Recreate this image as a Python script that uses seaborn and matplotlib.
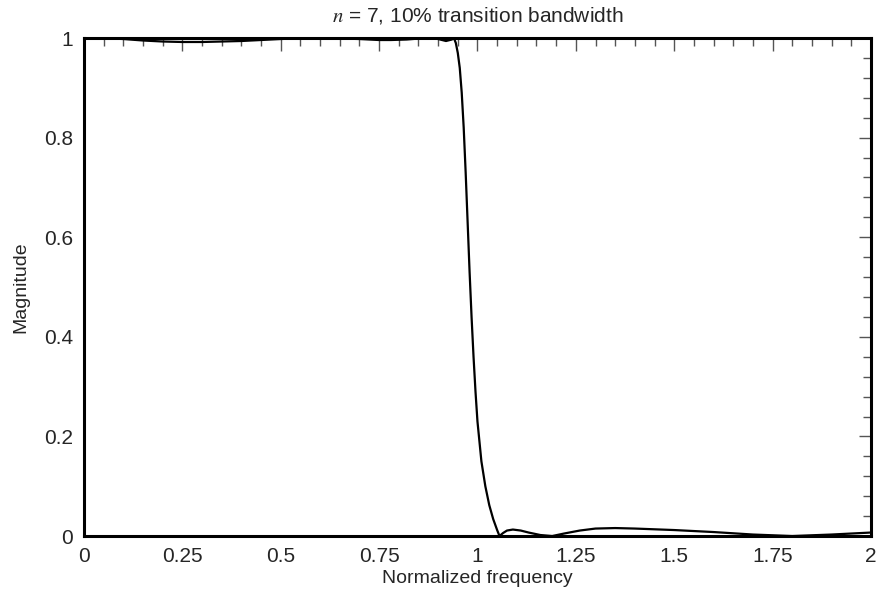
import matplotlib
matplotlib.use("Agg")
import matplotlib.pyplot as plt
import seaborn as sns
import pandas as pd
from matplotlib.ticker import MultipleLocator, FixedFormatter, FixedLocator

# Data
freq = [0.00, 0.05, 0.10, 0.15, 0.20, 0.25, 0.30, 0.35, 0.40, 0.45, 0.50, 0.55,
        0.60, 0.65, 0.70, 0.75, 0.78, 0.82, 0.86, 0.88, 0.90, 0.92, 0.935, 0.940,
        0.945, 0.950, 0.955, 0.960, 0.965, 0.970, 0.975, 0.980, 0.985, 0.990,
        0.995, 1.000, 1.010, 1.020, 1.030, 1.040, 1.050, 1.056, 1.065, 1.075,
        1.090, 1.110, 1.130, 1.160, 1.190, 1.220, 1.260, 1.300, 1.350, 1.400,
        1.500, 1.600, 1.700, 1.800, 1.900, 2.000]
magnitude = [1.000, 0.9995, 0.998, 0.995, 0.993, 0.992, 0.992, 0.993, 0.994, 0.996, 0.998, 0.9995,
             1.000, 0.999, 0.998, 0.996, 0.996, 0.997, 0.9995, 1.000, 0.998, 0.994, 0.997, 1.000,
             0.990, 0.970, 0.940, 0.890, 0.820, 0.730, 0.630, 0.530, 0.440, 0.360,
             0.290, 0.230, 0.150, 0.100, 0.062, 0.034, 0.012, 0.000, 0.006, 0.011,
             0.013, 0.011, 0.007, 0.002, 0.000, 0.005, 0.011, 0.015, 0.016, 0.015,
             0.012, 0.008, 0.003, 0.000, 0.003, 0.007]
x_ticks = [0, 0.25, 0.5, 0.75, 1, 1.25, 1.5, 1.75, 2]
x_labels = ["0", "0.25", "0.5", "0.75", "1", "1.25", "1.5", "1.75", "2"]
y_ticks = [0, 0.2, 0.4, 0.6, 0.8, 1]
y_labels = ["0", "0.2", "0.4", "0.6", "0.8", "1"]

sns.set_style("white")
plt.rcParams['font.family'] = ['Liberation Sans', 'DejaVu Sans']
plt.rcParams['mathtext.fontset'] = 'stix'

df = pd.DataFrame({"freq": freq, "mag": magnitude})

fig = plt.figure(figsize=(8.86, 5.94), dpi=100)
ax = fig.add_axes([0.0948, 0.0976, 0.983 - 0.0948, 0.936 - 0.0976])
sns.lineplot(data=df, x="freq", y="mag", ax=ax, color="black", linewidth=1.6, sort=False)

ax.set_xlim(0, 2)
ax.set_ylim(0, 1)
ax.xaxis.set_major_locator(FixedLocator(x_ticks))
ax.xaxis.set_major_formatter(FixedFormatter(x_labels))
ax.yaxis.set_major_locator(FixedLocator(y_ticks))
ax.yaxis.set_major_formatter(FixedFormatter(y_labels))
ax.xaxis.set_minor_locator(MultipleLocator(0.05))
ax.yaxis.set_minor_locator(MultipleLocator(0.04))
ax.tick_params(which='both', direction='in', top=True, right=True, color='#555555', width=1)
ax.tick_params(which='major', length=9, labelsize=15, pad=8)
ax.tick_params(which='minor', length=5.5)
for s in ax.spines.values():
    s.set_color('black')
    s.set_linewidth(2.2)

ax.set_xlabel("Normalized frequency", fontsize=14, labelpad=3)
ax.set_ylabel("Magnitude", fontsize=14, labelpad=10)
ax.set_title(r"$n$ = 7, 10% transition bandwidth", fontsize=15, pad=12)

fig.savefig("out.png", dpi=100)
